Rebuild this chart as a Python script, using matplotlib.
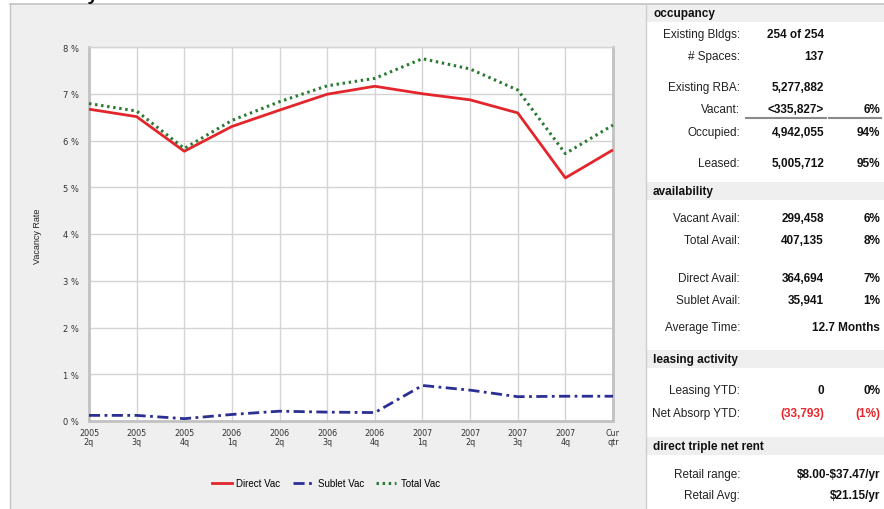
import matplotlib
matplotlib.use("Agg")
import matplotlib.pyplot as plt
from matplotlib.lines import Line2D
from matplotlib.patches import Rectangle

# ---- data -------------------------------------------------------------
quarters = ["2005\n2q", "2005\n3q", "2005\n4q", "2006\n1q", "2006\n2q", "2006\n3q",
            "2006\n4q", "2007\n1q", "2007\n2q", "2007\n3q", "2007\n4q", "Cur\nqtr"]
direct_vac = [6.67, 6.51, 5.77, 6.30, 6.65, 6.99, 7.16, 7.00, 6.87, 6.59, 5.20, 5.80]
sublet_vac = [0.12, 0.12, 0.05, 0.14, 0.21, 0.19, 0.18, 0.76, 0.66, 0.52, 0.53, 0.53]
total_vac = [6.79, 6.63, 5.83, 6.43, 6.83, 7.17, 7.33, 7.75, 7.53, 7.08, 5.72, 6.33]
y_ticks = [0, 1, 2, 3, 4, 5, 6, 7, 8]

# side table: (label, value, percent, y-pixel, red?)
occupancy_rows = [
    ("Existing Bldgs:", "254 of 254", "", 35, False),
    ("# Spaces:", "137", "", 57, False),
    ("Existing RBA:", "5,277,882", "", 88, False),
    ("Vacant:", "<335,827>", "6%", 110, False),
    ("Occupied:", "4,942,055", "94%", 133, False),
    ("Leased:", "5,005,712", "95%", 164, False),
]
availability_rows = [
    ("Vacant Avail:", "299,458", "6%", 219, False),
    ("Total Avail:", "407,135", "8%", 241, False),
    ("Direct Avail:", "364,694", "7%", 279, False),
    ("Sublet Avail:", "35,941", "1%", 301, False),
]
leasing_rows = [
    ("Leasing YTD:", "0", "0%", 391, False),
    ("Net Absorp YTD:", "(33,793)", "(1%)", 414, True),
]
headers = [("occupancy", 14), ("availability", 192), ("leasing activity", 360),
           ("direct triple net rent", 447)]
wide_rows = [("Average Time:", "12.7 Months", 328),
             ("Retail range:", r"\$8.00-\$37.47/yr", 475),
             ("Retail Avg:", r"\$21.15/yr", 496)]

# ---- figure ------------------------------------------------------------
W, H = 884, 510
fig = plt.figure(figsize=(W / 100, H / 100), dpi=100)
fig.patch.set_facecolor("white")


def fx(x):
    return x / W


def fy(y):
    return 1 - y / H


# chart panel background
fig.patches.append(Rectangle((fx(10), 0), fx(636), fy(5), transform=fig.transFigure,
                             facecolor="#efefef", edgecolor="none", zorder=-5))
fig.add_artist(Line2D([fx(10), 1], [fy(5), fy(5)], color="#c4c4c4", lw=1.2))
fig.add_artist(Line2D([fx(10), fx(10)], [0, fy(5)], color="#c4c4c4", lw=1.0))
fig.add_artist(Line2D([fx(646), fx(646)], [0, fy(5)], color="#cfcfcf", lw=1.0))

fig.text(fx(20), fy(0.5), "Vacancy Rates", fontsize=14, fontweight="bold",
         family="Liberation Sans", ha="left", va="baseline", color="#111111")

# ---- line chart ---------------------------------------------------------
ax = fig.add_axes([fx(89), 1 - 422 / H, (613 - 89) / W, (422 - 48) / H])
ax.set_zorder(2)
ax.set_facecolor("white")
x = list(range(len(quarters)))
ax.plot(x, direct_vac, color="#e3262b", lw=2.0, solid_capstyle="butt", zorder=3,
        clip_on=False)
ax.plot(x, sublet_vac, color="#2b2f94", lw=2.0, linestyle=(0, (4, 1.6, 1, 1.6)),
        zorder=3, clip_on=False)
ax.plot(x, total_vac, color="#2a7a32", lw=2.2, linestyle=(0, (0.8, 1.2)), zorder=4,
        clip_on=False)

ax.set_xlim(0, len(quarters) - 1)
ax.set_ylim(0, 8)
ax.set_yticks(y_ticks)
ax.set_yticklabels([f"{v} %" for v in y_ticks], fontsize=6, color="#333333",
                   family="DejaVu Sans")
ax.set_xticks(x)
ax.set_xticklabels(quarters, fontsize=5.8, color="#333333", family="DejaVu Sans",
                   linespacing=1.0)
ax.tick_params(axis="both", length=0)
ax.tick_params(axis="y", pad=7)
ax.tick_params(axis="x", pad=5)
ax.grid(True, color="#d4d4d4", lw=1.0)
ax.set_axisbelow(True)
for side in ["left", "bottom", "right"]:
    ax.spines[side].set_color("#c2c2c2")
    ax.spines[side].set_linewidth(2.0)
ax.spines["top"].set_color("#d4d4d4")
ax.spines["top"].set_linewidth(1.0)

fig.text(fx(37), fy(236), "Vacancy Rate", rotation=90, fontsize=6.5,
         family="Liberation Sans", ha="center", va="center", color="#222222")

handles = [
    Line2D([], [], color="#e3262b", lw=2.0),
    Line2D([], [], color="#2b2f94", lw=2.0, linestyle=(0, (4, 1.6, 1, 1.6))),
    Line2D([], [], color="#2a7a32", lw=2.2, linestyle=(0, (0.8, 1.2))),
]
fig.legend(handles, ["Direct Vac", "Sublet Vac", "Total Vac"], loc="center",
           bbox_to_anchor=(fx(326), fy(484)), ncol=3, frameon=False,
           prop={"family": "Liberation Sans", "size": 7}, handlelength=2.0,
           handletextpad=0.5, columnspacing=1.3)

# ---- side table ---------------------------------------------------------
LABEL_X, VALUE_X, PCT_X = 740, 824, 880
TXT = dict(family="Liberation Sans", fontsize=8.5, va="center")

for title, yc in headers:
    fig.patches.append(Rectangle((fx(647), fy(yc + 9)), 1 - fx(647), 18 / H,
                                 transform=fig.transFigure, facecolor="#efefef",
                                 edgecolor="none", zorder=-5))
    fig.text(fx(653), fy(yc), title, fontweight="bold", ha="left", color="#111111", **TXT)

for label, value, pct, yc, red in occupancy_rows + availability_rows + leasing_rows:
    col = "#e8262b" if red else "#111111"
    fig.text(fx(LABEL_X), fy(yc), label, ha="right", color="#222222", **TXT)
    fig.text(fx(VALUE_X), fy(yc), value, ha="right", fontweight="bold", color=col, **TXT)
    if pct:
        fig.text(fx(PCT_X), fy(yc), pct, ha="right", fontweight="bold", color=col, **TXT)

for label, value, yc in wide_rows:
    fig.text(fx(LABEL_X), fy(yc), label, ha="right", color="#222222", **TXT)
    fig.text(fx(PCT_X), fy(yc), value, ha="right", fontweight="bold", color="#111111", **TXT)

# subtotal rules under the vacant row
fig.add_artist(Line2D([fx(746), fx(826)], [fy(119), fy(119)], color="#8a8a8a", lw=1.5))
fig.add_artist(Line2D([fx(829), fx(881)], [fy(119), fy(119)], color="#8a8a8a", lw=1.5))

fig.savefig("out.png", dpi=100, facecolor="white")
